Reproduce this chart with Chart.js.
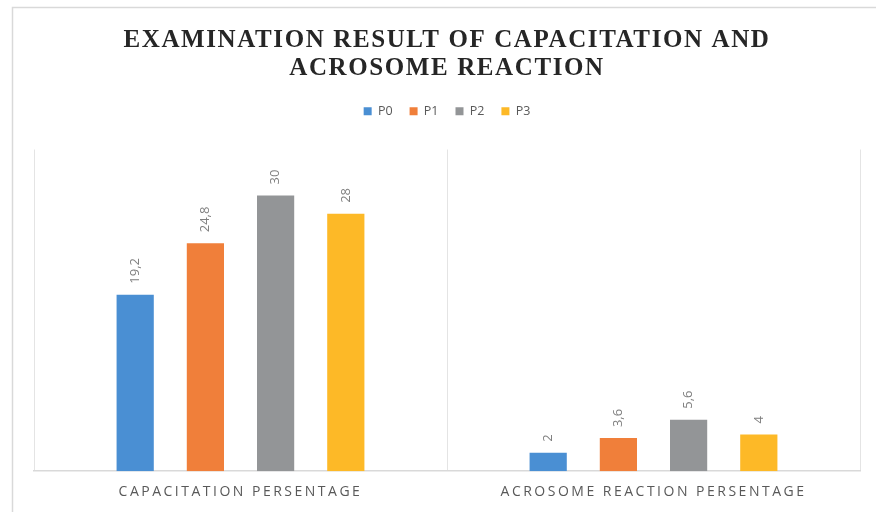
<!DOCTYPE html>
<html>
<head>
<meta charset="utf-8">
<script src="https://cdn.jsdelivr.net/npm/chart.js@4/dist/chart.umd.min.js"></script>
<style>
  html, body { margin: 0; padding: 0; background: #ffffff; }
  #wrap { position: relative; width: 876px; height: 512px; }
  canvas { display: block; }
</style>
</head>
<body>
<div id="wrap"><canvas id="c" width="876" height="512"></canvas></div>
<script>
const categories = ["CAPACITATION PERSENTAGE", "ACROSOME REACTION PERSENTAGE"];
const seriesNames = ["P0", "P1", "P2", "P3"];
const p0Values = [19.2, 2];
const p1Values = [24.8, 3.6];
const p2Values = [30, 5.6];
const p3Values = [28, 4];
const seriesColors = ["#4a8fd3", "#f07f3a", "#939597", "#fdb927"];
const titleLines = ["EXAMINATION RESULT OF CAPACITATION AND", "ACROSOME REACTION"];

const allValues = [p0Values, p1Values, p2Values, p3Values];

function wrapSpacing(obj, method, sp) {
  if (!obj || obj['__sp_' + method]) return;
  const orig = obj[method];
  obj[method] = function (...a) {
    const ctx = this.ctx;
    const prev = ctx.letterSpacing;
    ctx.letterSpacing = sp;
    const r = orig.apply(this, a);
    ctx.letterSpacing = prev;
    return r;
  };
  obj['__sp_' + method] = true;
}

const framePlugin = {
  id: 'frame',
  beforeInit(chart) {
    const lg = chart.legend;
    const origFit = lg.fit;
    lg.fit = function () {
      origFit.call(this);
      this.height += 22;
    };
  },
  afterLayout(chart) {
    wrapSpacing(chart.titleBlock, 'draw', '1.6px');
    wrapSpacing(chart.scales.x, 'drawLabels', '2.5px');
    wrapSpacing(chart.scales.x, 'draw', '2.5px');
  },
  beforeDraw(chart) {
    const ctx = chart.ctx;
    ctx.save();
    ctx.fillStyle = '#ffffff';
    ctx.fillRect(0, 0, chart.width, chart.height);
    ctx.strokeStyle = '#d9d9d9';
    ctx.lineWidth = 1.5;
    ctx.strokeRect(12.5, 7.5, 1000, 1000);
    ctx.restore();
  }
};

const valueLabelPlugin = {
  id: 'valueLabels',
  afterDatasetsDraw(chart) {
    const ctx = chart.ctx;
    ctx.save();
    ctx.letterSpacing = '0px';
    ctx.fillStyle = '#7f7f7f';
    ctx.font = '13px "Open Sans", "Noto Sans", sans-serif';
    ctx.textAlign = 'left';
    ctx.textBaseline = 'middle';
    chart.data.datasets.forEach((ds, di) => {
      const meta = chart.getDatasetMeta(di);
      meta.data.forEach((bar, i) => {
        const txt = String(ds.data[i]).replace('.', ',');
        ctx.save();
        ctx.translate(bar.x, bar.y - 11);
        ctx.rotate(-Math.PI / 2);
        ctx.fillText(txt, 0, 0);
        ctx.restore();
      });
    });
    ctx.restore();
  }
};

new Chart(document.getElementById('c'), {
  type: 'bar',
  data: {
    labels: categories,
    datasets: seriesNames.map((name, i) => ({
      label: name,
      data: allValues[i],
      backgroundColor: seriesColors[i],
      borderWidth: 0,
      categoryPercentage: 0.68,
      barPercentage: 0.53
    }))
  },
  options: {
    responsive: false,
    animation: false,
    devicePixelRatio: 1,
    layout: { padding: { left: 34, right: 16, top: 0, bottom: 0 } },
    plugins: {
      title: {
        display: true,
        text: titleLines,
        color: '#262626',
        font: { family: '"Liberation Serif", "DejaVu Serif", serif', size: 25, weight: 'bold', lineHeight: 1.12 },
        padding: { top: 27, bottom: 5 }
      },
      legend: {
        display: true,
        position: 'top',
        labels: {
          boxWidth: 8,
          boxHeight: 8,
          padding: 17,
          color: '#595959',
          font: { family: '"Open Sans", "Noto Sans", sans-serif', size: 12.5 }
        }
      },
      tooltip: { enabled: false }
    },
    scales: {
      x: {
        grid: { display: true, offset: true, drawTicks: false, color: '#e4e4e4', lineWidth: 1 },
        border: { display: true, color: '#d9d9d9', width: 1.5 },
        ticks: {
          color: '#595959',
          padding: 12,
          maxRotation: 0,
          font: { family: '"Open Sans", "Noto Sans", sans-serif', size: 14 }
        }
      },
      y: {
        display: false,
        min: 0,
        max: 35
      }
    }
  },
  plugins: [framePlugin, valueLabelPlugin]
});
</script>
</body>
</html>
